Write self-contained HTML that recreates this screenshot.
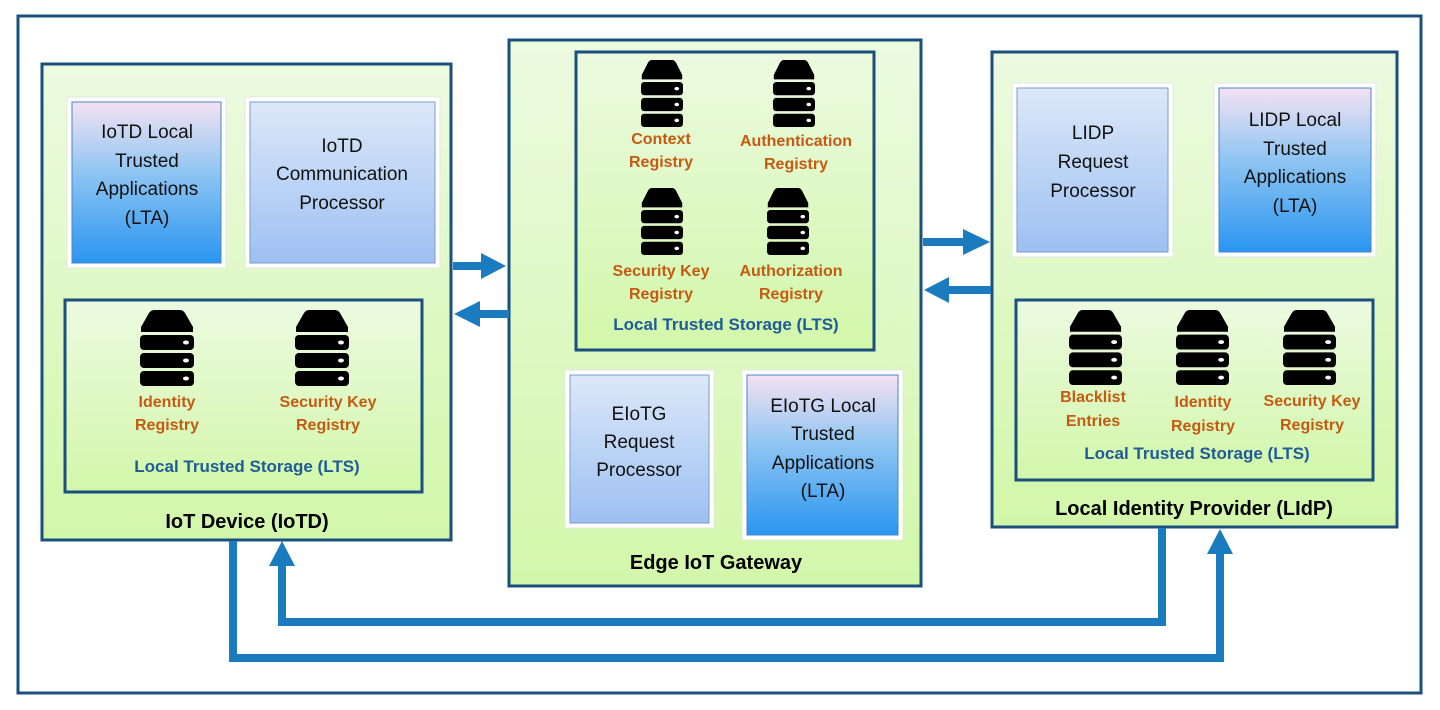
<!DOCTYPE html>
<html><head><meta charset="utf-8"><style>
html,body{margin:0;padding:0;background:#fff;}
svg{display:block;}
text{font-family:"Liberation Sans",sans-serif;}
.bx{font-size:19px;fill:#111;text-anchor:middle;}
.rg{font-size:16px;font-weight:bold;fill:#c55a11;text-anchor:middle;}
.lts{font-size:17px;font-weight:bold;fill:#1f5b96;text-anchor:middle;}
.tt{font-size:20px;font-weight:bold;fill:#000;text-anchor:middle;}
</style></head><body>
<svg width="1440" height="710" viewBox="0 0 1440 710" xmlns="http://www.w3.org/2000/svg">
<defs>
<linearGradient id="grn" x1="0" y1="0" x2="0" y2="1"><stop offset="0" stop-color="#ecfae0"/><stop offset="1" stop-color="#d2f7aa"/></linearGradient>
<linearGradient id="lta" x1="0" y1="0" x2="0" y2="1"><stop offset="0" stop-color="#f4e2f2"/><stop offset="0.45" stop-color="#8cc4f2"/><stop offset="1" stop-color="#2a95f0"/></linearGradient>
<linearGradient id="prc" x1="0" y1="0" x2="0" y2="1"><stop offset="0" stop-color="#dce8f8"/><stop offset="1" stop-color="#9dc0f2"/></linearGradient>
<symbol id="srv" viewBox="0 0 54 76" preserveAspectRatio="none">
<path d="M14 0 H40 Q43 0 45 3 L53 17 V22 H1 V17 L9 3 Q11 0 14 0 Z" fill="#000"/>
<rect x="0" y="25" width="54" height="15" rx="4" fill="#000"/>
<rect x="0" y="43" width="54" height="15" rx="4" fill="#000"/>
<rect x="0" y="61" width="54" height="15" rx="4" fill="#000"/>
<ellipse cx="46" cy="32.5" rx="3" ry="2" fill="#fff"/>
<ellipse cx="46" cy="50.5" rx="3" ry="2" fill="#fff"/>
<ellipse cx="46" cy="68.5" rx="3" ry="2" fill="#fff"/>
</symbol>
</defs>
<rect x="18" y="16" width="1403" height="677" fill="#fff" stroke="#1a4f7e" stroke-width="3"/>

<!-- IoTD -->
<rect x="42" y="64" width="409" height="476" fill="url(#grn)" stroke="#1a4f7e" stroke-width="3"/>
<rect x="67" y="97" width="159" height="171" fill="#fff" stroke="#e6e6e6"/>
<rect x="72" y="102" width="149" height="161" fill="url(#lta)" stroke="#4a86c8"/>
<text class="bx" x="147" y="138">IoTD Local</text>
<text class="bx" x="147" y="167">Trusted</text>
<text class="bx" x="147" y="195">Applications</text>
<text class="bx" x="147" y="224">(LTA)</text>
<rect x="245" y="97" width="195" height="171" fill="#fff" stroke="#e6e6e6"/>
<rect x="250" y="102" width="185" height="161" fill="url(#prc)" stroke="#7a9cc8"/>
<text class="bx" x="342" y="152">IoTD</text>
<text class="bx" x="342" y="180">Communication</text>
<text class="bx" x="342" y="209">Processor</text>
<rect x="65" y="300" width="357" height="192" fill="url(#grn)" stroke="#1a4f7e" stroke-width="3"/>
<use href="#srv" x="140" y="310" width="54" height="76"/>
<use href="#srv" x="295" y="310" width="54" height="76"/>
<text class="rg" x="167" y="407">Identity</text>
<text class="rg" x="167" y="430">Registry</text>
<text class="rg" x="328" y="407">Security Key</text>
<text class="rg" x="328" y="430">Registry</text>
<text class="lts" x="247" y="472">Local Trusted Storage (LTS)</text>
<text class="tt" x="247" y="528">IoT Device (IoTD)</text>

<!-- Gateway -->
<rect x="509" y="40" width="412" height="546" fill="url(#grn)" stroke="#1a4f7e" stroke-width="3"/>
<rect x="576" y="52" width="298" height="298" fill="url(#grn)" stroke="#1a4f7e" stroke-width="3"/>
<use href="#srv" x="641" y="60" width="42" height="67"/>
<use href="#srv" x="773" y="60" width="42" height="67"/>
<text class="rg" x="661" y="144">Context</text>
<text class="rg" x="661" y="167">Registry</text>
<text class="rg" x="796" y="146">Authentication</text>
<text class="rg" x="796" y="169">Registry</text>
<use href="#srv" x="641" y="188" width="42" height="67"/>
<use href="#srv" x="767" y="188" width="42" height="67"/>
<text class="rg" x="661" y="276">Security Key</text>
<text class="rg" x="661" y="299">Registry</text>
<text class="rg" x="791" y="276">Authorization</text>
<text class="rg" x="791" y="299">Registry</text>
<text class="lts" x="726" y="330">Local Trusted Storage (LTS)</text>
<rect x="565" y="370" width="149" height="158" fill="#fff" stroke="#e6e6e6"/>
<rect x="570" y="375" width="139" height="148" fill="url(#prc)" stroke="#7a9cc8"/>
<text class="bx" x="639" y="420">EIoTG</text>
<text class="bx" x="639" y="448">Request</text>
<text class="bx" x="639" y="476">Processor</text>
<rect x="742" y="370" width="161" height="170" fill="#fff" stroke="#e6e6e6"/>
<rect x="747" y="375" width="151" height="160" fill="url(#lta)" stroke="#4a86c8"/>
<text class="bx" x="823" y="412">EIoTG Local</text>
<text class="bx" x="823" y="440">Trusted</text>
<text class="bx" x="823" y="469">Applications</text>
<text class="bx" x="823" y="497">(LTA)</text>
<text class="tt" x="716" y="569">Edge IoT Gateway</text>

<!-- LIdP -->
<rect x="992" y="52" width="405" height="475" fill="url(#grn)" stroke="#1a4f7e" stroke-width="3"/>
<rect x="1012" y="83" width="161" height="174" fill="#fff" stroke="#e6e6e6"/>
<rect x="1017" y="88" width="151" height="164" fill="url(#prc)" stroke="#7a9cc8"/>
<text class="bx" x="1093" y="139">LIDP</text>
<text class="bx" x="1093" y="168">Request</text>
<text class="bx" x="1093" y="197">Processor</text>
<rect x="1214" y="83" width="162" height="174" fill="#fff" stroke="#e6e6e6"/>
<rect x="1219" y="88" width="152" height="164" fill="url(#lta)" stroke="#4a86c8"/>
<text class="bx" x="1295" y="126">LIDP Local</text>
<text class="bx" x="1295" y="155">Trusted</text>
<text class="bx" x="1295" y="183">Applications</text>
<text class="bx" x="1295" y="212">(LTA)</text>
<rect x="1016" y="300" width="357" height="180" fill="url(#grn)" stroke="#1a4f7e" stroke-width="3"/>
<use href="#srv" x="1069" y="310" width="53" height="75"/>
<use href="#srv" x="1176" y="310" width="53" height="75"/>
<use href="#srv" x="1283" y="310" width="53" height="75"/>
<text class="rg" x="1093" y="402">Blacklist</text>
<text class="rg" x="1093" y="426">Entries</text>
<text class="rg" x="1203" y="407">Identity</text>
<text class="rg" x="1203" y="431">Registry</text>
<text class="rg" x="1312" y="406">Security Key</text>
<text class="rg" x="1312" y="430">Registry</text>
<text class="lts" x="1197" y="459">Local Trusted Storage (LTS)</text>
<text class="tt" x="1194" y="515">Local Identity Provider (LIdP)</text>

<!-- arrows between boxes -->
<g fill="#1a7bbf">
<rect x="453" y="262" width="30" height="8"/><polygon points="481,253 506,266 481,279"/>
<rect x="478" y="310" width="31" height="8"/><polygon points="480,301 454,314 480,327"/>
<rect x="923" y="238" width="45" height="8"/><polygon points="963,229 990,242 963,255"/>
<rect x="944" y="286" width="47" height="8"/><polygon points="949,277 924,290 949,303"/>
<polygon points="282,541 269,566 295,566"/>
<polygon points="1220,529 1207,554 1233,554"/>
</g>
<g fill="none" stroke="#1a7bbf" stroke-width="8" stroke-linejoin="miter">
<polyline points="233,541 233,658 1220,658 1220,552"/>
<polyline points="1162,528 1162,622 282,622 282,564"/>
</g>
</svg>
</body></html>
